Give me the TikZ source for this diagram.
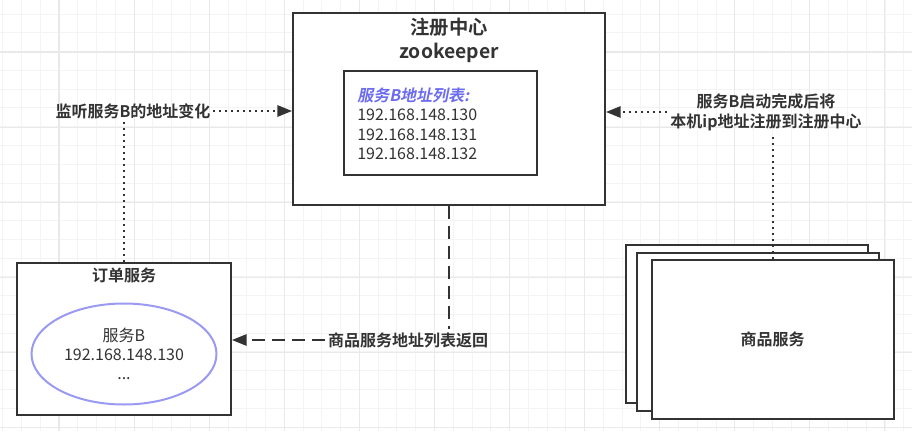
\documentclass[tikz,border=0pt]{standalone}
\usepackage{fontspec}
\setmainfont{Noto Sans CJK SC}[
  BoldFont={Noto Sans CJK SC Bold},
  ItalicFont={Noto Sans CJK SC},
  ItalicFeatures={FakeSlant=0.2},
  BoldItalicFont={Noto Sans CJK SC Bold},
  BoldItalicFeatures={FakeSlant=0.2}]
\usetikzlibrary{arrows.meta,shapes.geometric}
\definecolor{ink}{HTML}{333333}
\definecolor{accent}{HTML}{6C6CF0}
\definecolor{lilac}{HTML}{9A9AF2}
\definecolor{gridfaint}{HTML}{F4F4F4}
\definecolor{gridline}{HTML}{E9E9E9}

\begin{document}
\begin{tikzpicture}[
  x=0.75pt, y=-0.75pt,
  gridminor/.style={draw=gridfaint, line width=0.6pt},
  gridmajor/.style={draw=gridline, line width=0.8pt},
  box/.style={draw=ink, line width=1.5pt, fill=white, inner sep=0pt},
  note/.style={text=ink, font=\bfseries\fontsize{12}{15}\selectfont, align=center, inner sep=2pt},
  iptext/.style={text=ink, font=\fontsize{12}{14.6}\selectfont, align=left, inner sep=0pt},
  dotline/.style={ink, line width=1.5pt, dash pattern=on 1.5pt off 3pt},
  dashline/.style={ink, line width=1.5pt, dash pattern=on 9.75pt off 5.25pt},
  tip/.style={-{Triangle[length=11pt,width=8.5pt]}}
]
  \useasboundingbox[fill=white] (0,0) rectangle (912,431);
  % background grid
  \foreach \i in {-1,...,48} \draw[gridminor] (2.7+18.77*\i,0) -- (2.7+18.77*\i,431);
  \foreach \j in {-1,...,22} \draw[gridminor] (0,14+18.77*\j) -- (912,14+18.77*\j);
  \foreach \i in {-1,...,11} \draw[gridmajor] (59+75.08*\i,0) -- (59+75.08*\i,431);
  \foreach \j in {-1,...,5} \draw[gridmajor] (0,52+75.08*\j) -- (912,52+75.08*\j);

  % registry
  \node[box, minimum width=234pt, minimum height=144pt] (zk) at (449,109) {};
  \node[note, font=\bfseries\fontsize{14.5}{18}\selectfont] (zktitle) at (449,40) {注册中心\\zookeeper};
  \node[box, minimum width=144.75pt, minimum height=78pt] (list) at (440.5,123) {};
  \node[iptext, anchor=west] (iplist) at (357,124)
    {\textcolor{accent}{\textbf{\textit{服务B地址列表:}}}\\192.168.148.130\\192.168.148.131\\192.168.148.132};

  % order service
  \node[box, minimum width=160.5pt, minimum height=114pt] (order) at (124,339) {};
  \node[note] (ordertitle) at (124,275) {订单服务};
  \node[ellipse, draw=lilac, line width=1.5pt, fill=white, inner sep=0pt,
        minimum width=138.75pt, minimum height=75.75pt, text=ink, align=center,
        font=\fontsize{12}{14.5}\selectfont] (svcb) at (124,354) {服务B\\192.168.148.130\\...};

  % product service instances
  \node[box, minimum width=181.5pt, minimum height=119pt] (back) at (747,324) {};
  \node[box, minimum width=181.5pt, minimum height=119pt] (mid) at (757.5,332) {};
  \node[box, minimum width=181.5pt, minimum height=119pt, text=ink,
        font=\bfseries\fontsize{12}{15}\selectfont] (front) at (772.5,339.5) {商品服务};

  % labels
  \node[note] (listen) at (133,111) {监听服务B的地址变化};
  \node[note] (register) at (766,112) {服务B启动完成后将\\本机ip地址注册到注册中心};
  \node[note] (ret) at (408,340) {商品服务地址列表返回};

  % connectors
  \draw[dotline, tip] (listen.east) -- (listen.east -| zk.west);
  \draw[dotline] (order.north) -- (order.north |- listen.south);
  \draw[dotline, tip] (register.west) -- (register.west -| zk.east);
  \draw[dotline] (front.north) -- (front.north |- register.south);
  \draw[dashline] (zk.south) -- (zk.south |- ret.north);
  \draw[dashline, tip] (ret.west) -- (ret.west -| order.east);
\end{tikzpicture}
\end{document}
